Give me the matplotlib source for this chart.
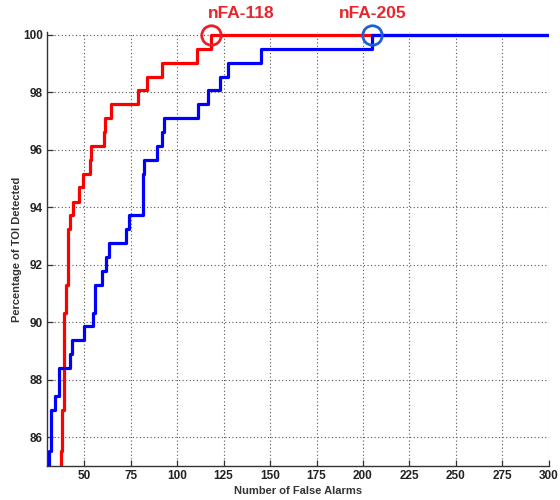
import matplotlib
matplotlib.use("Agg")
import matplotlib.pyplot as plt

# Detection curves: false-alarm count at which each step occurs, and the
# percentage of TOI detected from that point on (step-post).
red_nfa = [30, 37.3, 38.2, 39.2, 40.1, 41.4, 42.6, 44.0, 47.2, 49.4, 52.9, 53.8,
           60.4, 61.4, 64.5, 78.7, 84.0, 91.7, 110.7, 118, 300]
red_pct = [84.0, 85.51, 86.96, 90.34, 91.30, 93.24, 93.72, 94.20, 94.69, 95.17,
           95.65, 96.14, 96.62, 97.10, 97.58, 98.07, 98.55, 99.03, 99.52, 100.0, 100.0]

blue_nfa = [30, 31.1, 32.0, 34.3, 36.6, 42.3, 43.2, 49.9, 54.7, 55.6, 59.7, 61.8,
            63.2, 72.5, 73.9, 81.5, 82.2, 89.3, 92.0, 92.9, 111.2, 116.5, 123.1,
            127.2, 145.3, 205, 300]
blue_pct = [84.0, 85.51, 86.96, 87.44, 88.41, 88.89, 89.37, 89.86, 90.34, 91.30,
            91.79, 92.27, 92.75, 93.24, 93.72, 95.17, 95.65, 96.14, 96.62, 97.10,
            97.58, 98.07, 98.55, 99.03, 99.52, 100.0, 100.0]

# Points where each curve first reaches 100 %
marker_nfa = [118, 205]
marker_pct = [100.0, 100.0]
marker_text = ["nFA-118", "nFA-205"]

x_ticks = [50, 75, 100, 125, 150, 175, 200, 225, 250, 275, 300]
y_ticks = [86, 88, 90, 92, 94, 96, 98, 100]

font = ["Liberation Sans", "DejaVu Sans"]
plt.rcParams["font.family"] = font

fig = plt.figure(figsize=(5.6, 5.0), dpi=100)
ax = fig.add_axes([0.084, 0.068, 0.896, 0.868])

ax.step(red_nfa, red_pct, where="post", color="#ff0000", lw=2.3, zorder=3)
ax.step(blue_nfa, blue_pct, where="post", color="#0000ff", lw=2.3, zorder=4)

ax.set_xlim(30, 300)
ax.set_ylim(85, 100.1)
ax.set_xticks(x_ticks)
ax.set_yticks(y_ticks)

ax.grid(True, color="#555555", linestyle=(0, (1.0, 2.2)), lw=0.8)
ax.set_axisbelow(True)
for side in ("top", "right"):
    ax.spines[side].set_visible(False)
for side in ("left", "bottom"):
    ax.spines[side].set_color("#333333")
    ax.spines[side].set_linewidth(1.0)

ax.tick_params(direction="in", length=4, width=0.9, color="#333333",
               labelsize=8.5, labelcolor="#222222", pad=3)
for lab in ax.get_xticklabels() + ax.get_yticklabels():
    lab.set_fontweight("bold")

ax.set_xlabel("Number of False Alarms", fontsize=8, fontweight="bold", color="#333333")
ax.set_ylabel("Percentage of TOI Detected", fontsize=8, fontweight="bold", color="#333333")
ax.xaxis.set_label_coords(0.5, -0.047)
ax.yaxis.set_label_coords(-0.05, 0.5)

circle_colors = ["#e8202a", "#1f5fd6"]
text_offsets = [(22, 10), (0, 10)]
for x, y, txt, c, off in zip(marker_nfa, marker_pct, marker_text, circle_colors, text_offsets):
    ax.plot([x], [y], "o", ms=14, mfc="none", mec=c, mew=2.0, clip_on=False, zorder=5)
    ax.annotate(txt, (x, y), xytext=off, textcoords="offset points",
                ha="center", va="bottom", fontsize=12.5, fontweight="bold",
                color="#e8262b", annotation_clip=False)

fig.savefig("out.png", dpi=100)
